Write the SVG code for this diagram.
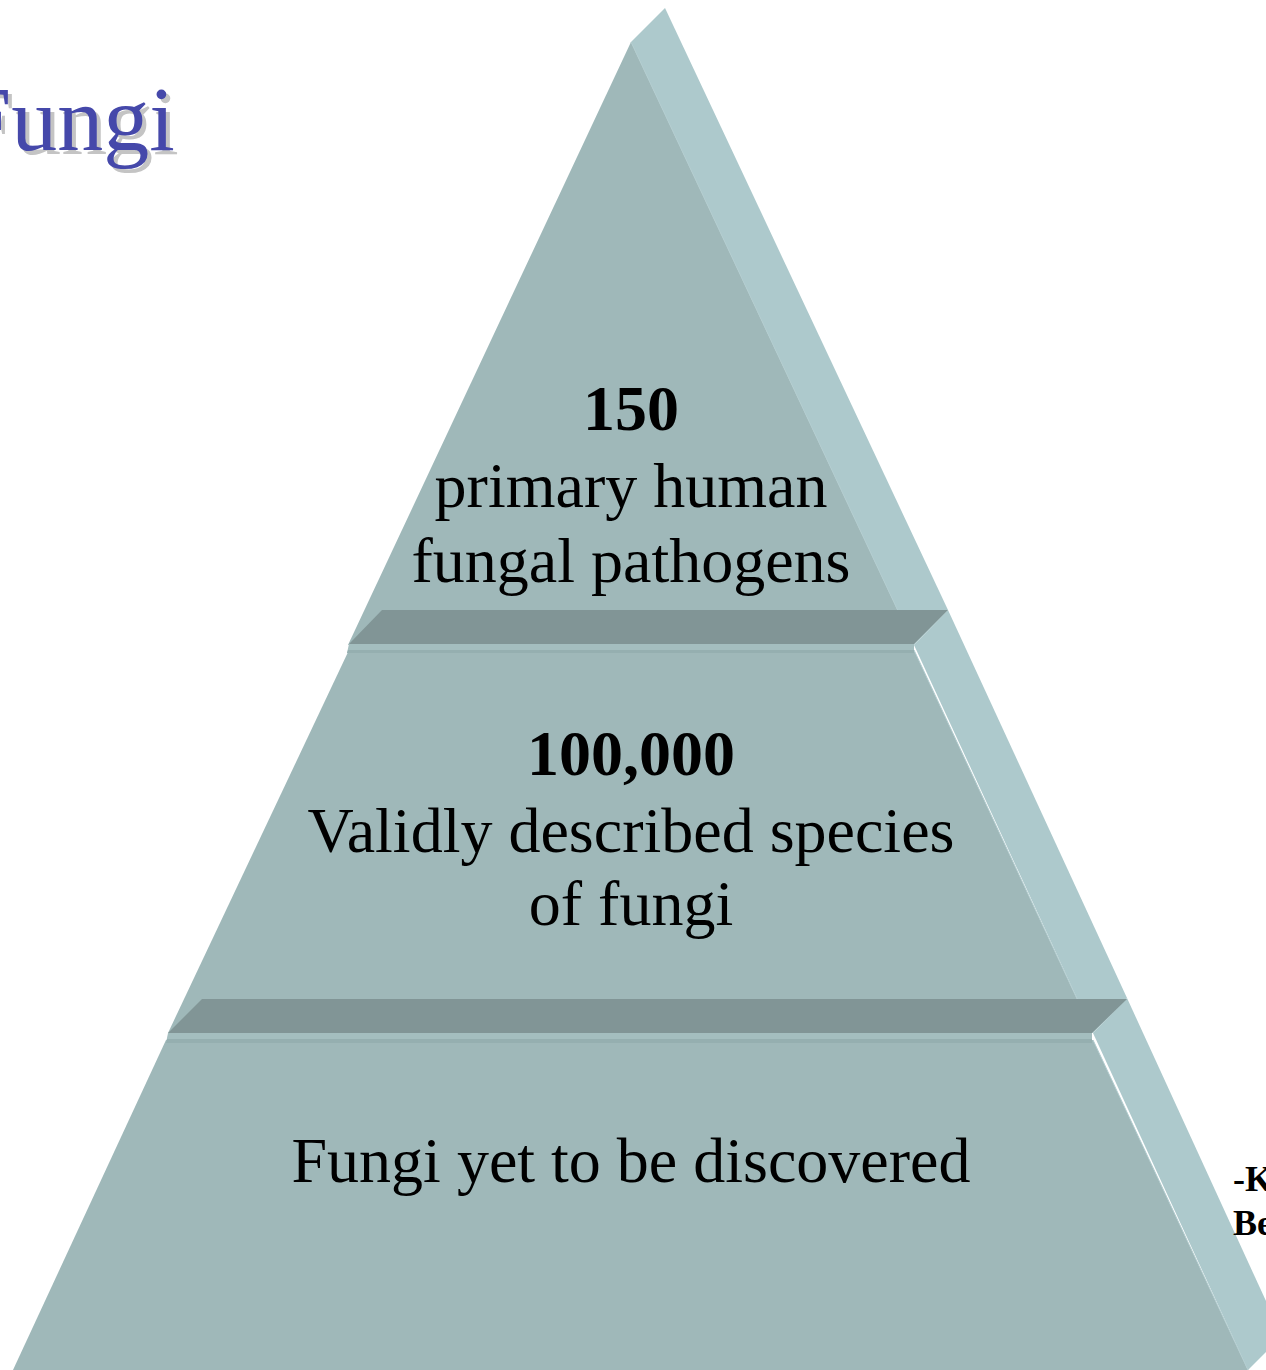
<svg xmlns="http://www.w3.org/2000/svg" width="1266" height="1370" viewBox="0 0 1266 1370">
<style>
.front{fill:#9FB8B9}
.side{fill:#ADC9CC}
.band{fill:#819596}
.strip{fill:#A4BEBF}
.line{fill:#95AFB0}
.edge{fill:none;stroke:#B2CCCF;stroke-width:1}
.t{font-family:"Liberation Serif","Times New Roman",serif;font-size:64px;fill:#000;text-anchor:middle}
.b{font-weight:bold}
.title{font-family:"Liberation Serif","Times New Roman",serif;font-size:92px}
.note{font-family:"Liberation Serif","Times New Roman",serif;font-size:36px;font-weight:bold;fill:#000}
</style>
<rect width="1266" height="1370" fill="#FFFFFF"/>
<g id="title">
<text class="title" x="-36" y="154" fill="#C4C4C4">Fungi</text>
<text class="title" x="-40" y="150" fill="#4548AA">Fungi</text>
</g>
<g id="tier-top">
<polygon class="side" points="631,42 665,8 948,610 914,645"/>
<polygon class="front" points="631,42 914,645 348,645"/>
<polyline class="edge" points="631,42 914,645"/>
<text class="t b" x="631" y="430">150</text>
<text class="t" x="631" y="507">primary human</text>
<text class="t" x="631" y="582">fungal pathogens</text>
</g>
<g id="tier-middle">
<polygon class="side" points="914,645 948,610 1127,998 1093,1033"/>
<polygon class="front" points="349,650 914,650 1093,1033 168,1033"/>
<polyline class="edge" points="914,650 1093,1033"/>
<polygon class="band" points="382,610 948,610 914,644 349,644"/>
<polygon class="strip" points="349,644 914,644 914,653 347,653"/>
<polygon class="line" points="348,650 914,650 914,653 347,653"/>
<text class="t b" x="631" y="775">100,000</text>
<text class="t" x="631" y="852">Validly described species</text>
<text class="t" x="631" y="925">of fungi</text>
</g>
<g id="tier-bottom">
<polygon class="side" points="1093,1033 1127,998 1282,1336 1248,1370"/>
<polygon class="front" points="166,1040 1093,1040 1248,1370 13,1370"/>
<polyline class="edge" points="1093,1040 1248,1370"/>
<polygon class="band" points="202,999 1127,999 1092,1033 168,1033"/>
<polygon class="strip" points="168,1033 1092,1033 1092,1043 166,1043"/>
<polygon class="line" points="167,1039 1092,1039 1092,1043 166,1043"/>
<text class="t" x="631" y="1182">Fungi yet to be discovered</text>
</g>
<g id="connectors"></g>
<g id="note">
<text class="note" x="1233" y="1191">-K</text>
<text class="note" x="1233" y="1235">Be</text>
</g>
</svg>
